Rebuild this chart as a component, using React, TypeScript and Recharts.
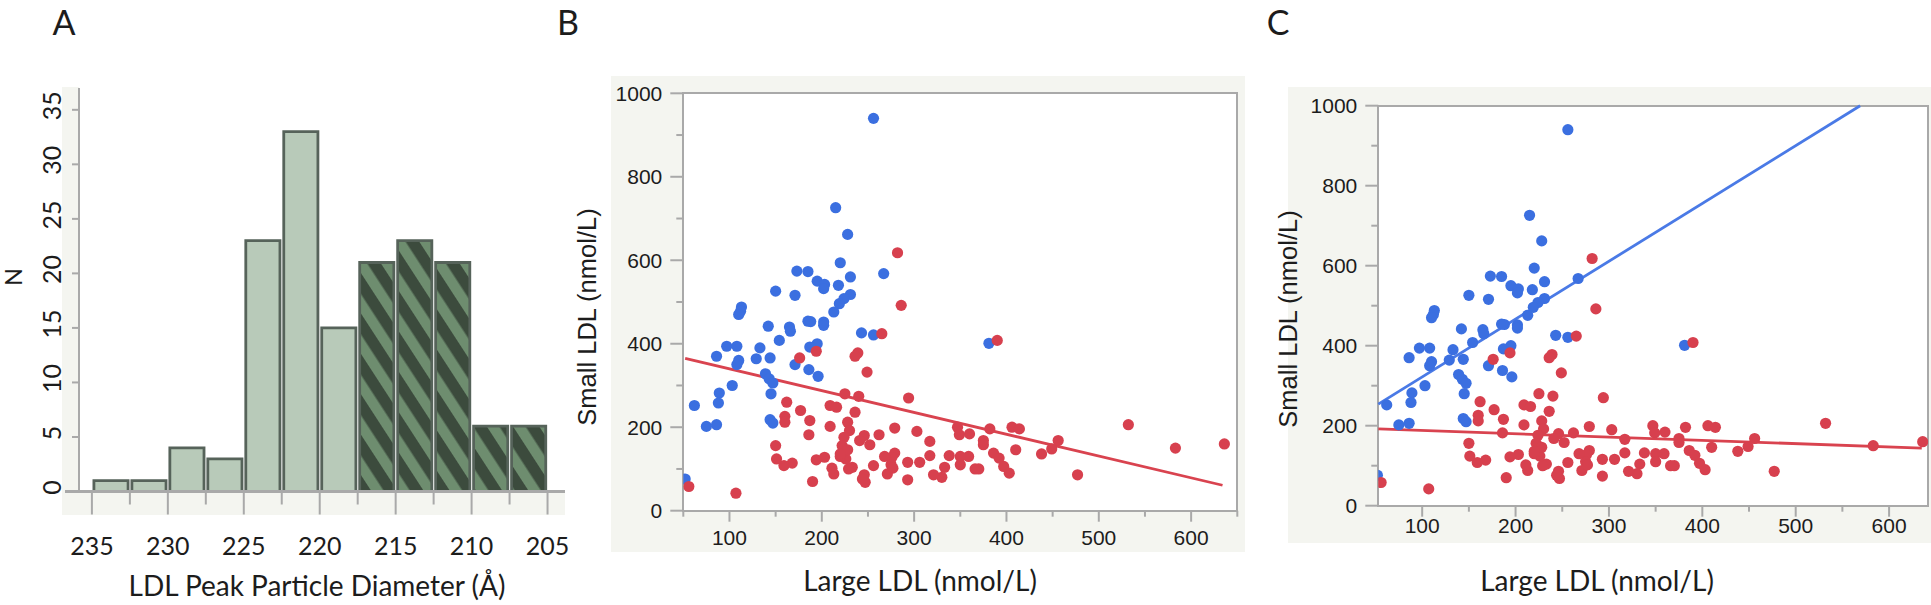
import {
  ComposedChart,
  Bar,
  Cell,
  XAxis,
  YAxis,
  ScatterChart,
  Scatter,
  ReferenceLine,
} from "recharts";

// ---- Panel A: LDL peak particle diameter histogram (2.5 Å bins) ----
const binMids = [233.75, 231.25, 228.75, 226.25, 223.75, 221.25, 218.75, 216.25, 213.75, 211.25, 208.75, 206.25];
const binCounts = [1, 1, 4, 3, 23, 33, 15, 21, 23, 21, 6, 6];
const binHatched = [false, false, false, false, false, false, false, true, true, true, true, true];
const histXTicks = [235, 232.5, 230, 227.5, 225, 222.5, 220, 217.5, 215, 212.5, 210, 207.5, 205];
const histYTicks = [0, 5, 10, 15, 20, 25, 30, 35];

// ---- Panels B/C: large vs small LDL (nmol/L) ----
const blueLarge = [256, 215, 228, 220, 267, 231, 173, 185, 195, 203, 202, 218, 150, 171, 231, 224, 219, 213, 113, 112, 110, 185, 188, 202, 202, 165, 166, 142, 243, 256, 154, 195, 187, 97, 108, 133, 86, 129, 144, 110, 108, 171, 186, 196, 139, 143, 147, 145, 103, 89, 88, 62, 75, 86, 144, 147, 52, 381];
const blueSmall = [940, 726, 662, 594, 568, 560, 574, 573, 550, 542, 532, 540, 526, 516, 518, 508, 496, 476, 488, 478, 470, 454, 453, 452, 444, 440, 430, 442, 426, 421, 408, 400, 392, 394, 394, 390, 370, 364, 366, 360, 350, 350, 338, 322, 328, 316, 306, 280, 300, 282, 258, 252, 202, 206, 218, 210, 76, 401];
const redLarge = [282, 286, 265, 390, 194, 176, 239, 236, 249, 294, 225, 240, 162, 209, 216, 177, 236, 160, 160, 187, 228, 209, 186, 230, 224, 222, 246, 241, 252, 262, 279, 303, 317, 347, 349, 360, 382, 406, 414, 375, 375, 410, 456, 449, 438, 532, 583, 636, 477, 386, 392, 397, 403, 370, 366, 359, 350, 350, 338, 333, 330, 321, 317, 306, 293, 293, 279, 276, 275, 271, 277, 268, 256, 246, 247, 244, 233, 229, 226, 220, 213, 211, 203, 194, 190, 168, 159, 151, 150, 107, 56, 228, 220];
const redSmall = [618, 492, 424, 408, 382, 366, 378, 370, 332, 270, 280, 274, 260, 252, 248, 240, 236, 226, 212, 216, 212, 202, 182, 192, 176, 156, 180, 168, 158, 182, 198, 190, 166, 200, 182, 184, 196, 200, 196, 168, 158, 146, 168, 148, 136, 206, 150, 160, 86, 138, 126, 106, 90, 100, 100, 130, 130, 110, 132, 104, 80, 86, 132, 116, 116, 74, 138, 128, 110, 88, 102, 130, 108, 86, 68, 76, 104, 100, 124, 130, 88, 102, 128, 122, 70, 114, 108, 124, 156, 42, 58, 146, 136];

const scatterYTicks = [0, 100, 200, 300, 400, 500, 600, 700, 800, 900, 1000];
const xTicksB = [50, 100, 150, 200, 250, 300, 350, 400, 450, 500, 550, 600, 650];
const xTicksC = [100, 150, 200, 250, 300, 350, 400, 450, 500, 550, 600];

// fitted lines (end points)
const fitBRedX = [52, 634];
const fitBRedY = [365, 61];
const fitCBlueX = [53, 569];
const fitCBlueY = [254, 1000];
const fitCRedX = [53, 635];
const fitCRedY = [192, 144];

const histData = binMids.map((mid, i) => ({ mid, n: binCounts[i], hatched: binHatched[i] }));
const bluePts = blueLarge.map((x, i) => ({ x, y: blueSmall[i] }));
const redPts = redLarge.map((x, i) => ({ x, y: redSmall[i] }));

const INK = "#1c1c1c";
const AXIS = "#a9a9a9";
const PANEL_BG = "#f4f5f0";
const BLUE = "#3b6fe0";
const RED = "#d7404e";
const SANS = "Lato, 'Open Sans', sans-serif";
const ARIAL = "'Liberation Sans', Arial, sans-serif";

function Txt({ x, y, size, font = SANS, rotate = 0, children }: any) {
  return (
    <div
      style={{
        position: "absolute",
        left: x,
        top: y,
        transform: `translate(-50%, -50%) rotate(${rotate}deg)`,
        fontFamily: font,
        fontSize: size,
        lineHeight: 1,
        whiteSpace: "nowrap",
        color: INK,
      }}
    >
      {children}
    </div>
  );
}

function Box({ x, y, w, h, bg, border }: any) {
  return (
    <div
      style={{
        position: "absolute",
        left: x,
        top: y,
        width: w,
        height: h,
        background: bg,
        border: border,
        boxSizing: "border-box",
      }}
    />
  );
}

function HistXTick({ x, y, payload }: any) {
  const major = payload.value % 5 === 0;
  return (
    <g>
      <line x1={x} x2={x} y1={y} y2={y + (major ? 23 : 13)} stroke={AXIS} strokeWidth={2} />
      {major && (
        <text x={x} y={y + 63} textAnchor="middle" fontFamily={SANS} fontSize={25} fill={INK}>
          {payload.value}
        </text>
      )}
    </g>
  );
}

function HistYTick({ x, y, payload }: any) {
  const tx = x - 18;
  const ty = y - 4;
  return (
    <g>
      <line x1={x - 7} x2={x} y1={y} y2={y} stroke={AXIS} strokeWidth={2} />
      <text x={tx} y={ty} transform={`rotate(-90 ${tx} ${ty})`} textAnchor="middle" fontFamily={SANS} fontSize={25} fill={INK}>
        {payload.value}
      </text>
    </g>
  );
}

function ScatterYTick({ x, y, payload }: any) {
  const major = payload.value % 200 === 0;
  return (
    <g>
      <line x1={x - (major ? 13 : 7)} x2={x} y1={y} y2={y} stroke={AXIS} strokeWidth={2} />
      {major && (
        <text x={x - 21} y={y + 7.5} textAnchor="end" fontFamily={ARIAL} fontSize={21} fill={INK}>
          {payload.value}
        </text>
      )}
    </g>
  );
}

const scatterXTick = (labelDy: number) => ({ x, y, payload }: any) => {
  const major = payload.value % 100 === 0;
  return (
    <g>
      <line x1={x} x2={x} y1={y} y2={y + (major ? 11 : 6)} stroke={AXIS} strokeWidth={2} />
      {major && (
        <text x={x} y={y + labelDy + 7.5} textAnchor="middle" fontFamily={ARIAL} fontSize={21} fill={INK}>
          {payload.value}
        </text>
      )}
    </g>
  );
};

const dot = (color: string) => (p: any) => <circle cx={p.cx} cy={p.cy} r={5.6} fill={color} />;

function Histogram() {
  return (
    <div style={{ position: "absolute", left: 0, top: 0 }}>
      <ComposedChart width={600} height={605} data={histData} margin={{ top: 88, right: 35, bottom: 83.5, left: 19 }}>
        <defs>
          <pattern id="hatch" patternUnits="userSpaceOnUse" width={22} height={22} patternTransform="rotate(-33)">
            <rect width={22} height={22} fill="#3c4b3d" />
            <rect width={10.5} height={22} fill="#6e8d6f" />
          </pattern>
        </defs>
        <XAxis
          type="number"
          dataKey="mid"
          domain={[203.85, 235.85]}
          reversed
          ticks={histXTicks}
          interval={0}
          tickSize={0}
          tickMargin={0}
          tickLine={false}
          axisLine={{ stroke: AXIS, strokeWidth: 3 }}
          tick={(t: any) => <HistXTick {...t} />}
          height={30}
        />
        <YAxis
          type="number"
          domain={[0, 37]}
          ticks={histYTicks}
          interval={0}
          tickSize={0}
          tickMargin={0}
          tickLine={false}
          axisLine={{ stroke: AXIS, strokeWidth: 2 }}
          tick={(t: any) => <HistYTick {...t} />}
          width={60}
        />
        <Bar dataKey="n" barSize={38} stroke="#56635a" strokeWidth={2.8} isAnimationActive={false}>
          {histData.map((d, i) => (
            <Cell key={i} fill={d.hatched ? "url(#hatch)" : "#b8cab9"} />
          ))}
        </Bar>
      </ComposedChart>
    </div>
  );
}

function ScatterPanel({ left, width, margin, xDomain, xTicks, labelDy, lines }: any) {
  return (
    <div style={{ position: "absolute", left, top: 0 }}>
      <ScatterChart width={width} height={605} margin={margin}>
        <XAxis
          type="number"
          dataKey="x"
          domain={xDomain}
          ticks={xTicks}
          interval={0}
          allowDataOverflow
          tickSize={0}
          tickMargin={0}
          tickLine={false}
          axisLine={false}
          tick={scatterXTick(labelDy)}
          height={30}
        />
        <YAxis
          type="number"
          dataKey="y"
          domain={[0, 1000]}
          ticks={scatterYTicks}
          interval={0}
          allowDataOverflow
          tickSize={0}
          tickMargin={0}
          tickLine={false}
          axisLine={false}
          tick={(t: any) => <ScatterYTick {...t} />}
          width={60}
        />
        <Scatter data={bluePts} shape={dot(BLUE)} isAnimationActive={false} />
        <Scatter data={redPts} shape={dot(RED)} isAnimationActive={false} />
        {lines.map((l: any, i: number) => (
          <ReferenceLine
            key={i}
            segment={[
              { x: l.x[0], y: l.y[0] },
              { x: l.x[1], y: l.y[1] },
            ]}
            stroke={l.color}
            strokeWidth={2.8}
          />
        ))}
      </ScatterChart>
    </div>
  );
}

export default function App() {
  return (
    <div style={{ position: "absolute", left: 0, top: 0, width: 1931, height: 605, background: "#fff", overflow: "hidden" }}>
      {/* panel A frame */}
      <Box x={62} y={87} w={17} h={428} bg={PANEL_BG} />
      <Box x={62} y={492} w={503} h={23} bg={PANEL_BG} />
      <Box x={65} y={490} w={15} h={3} bg={AXIS} />
      {/* panel B frame */}
      <Box x={611} y={76} w={634} h={476} bg={PANEL_BG} />
      <Box x={682} y={92} w={556} h={420} bg="#fff" border={`2px solid ${AXIS}`} />
      {/* panel C frame */}
      <Box x={1288} y={87} w={643} h={456} bg={PANEL_BG} />
      <Box x={1377} y={104.7} w={552} h={402} bg="#fff" border={`2px solid ${AXIS}`} />

      <Histogram />
      <ScatterPanel
        left={560}
        width={700}
        margin={{ top: 93.3, right: 22.7, bottom: 64.3, left: 63.3 }}
        xDomain={[50, 650]}
        xTicks={xTicksB}
        labelDy={27}
        lines={[{ x: fitBRedX, y: fitBRedY, color: "#d9434f" }]}
      />
      <ScatterPanel
        left={1280}
        width={651}
        margin={{ top: 105.7, right: 2.7, bottom: 69.3, left: 38.3 }}
        xDomain={[53, 642]}
        xTicks={xTicksC}
        labelDy={19.5}
        lines={[
          { x: fitCBlueX, y: fitCBlueY, color: "#4a7ae6" },
          { x: fitCRedX, y: fitCRedY, color: "#d9434f" },
        ]}
      />

      <Txt x={64} y={22} size={34}>A</Txt>
      <Txt x={568} y={22} size={34}>B</Txt>
      <Txt x={1278} y={22} size={34}>C</Txt>
      <Txt x={13} y={277} size={23} rotate={-90}>N</Txt>
      <Txt x={317} y={585} size={28}>LDL Peak Particle Diameter (Å)</Txt>
      <Txt x={588} y={317} size={25.5} font={ARIAL} rotate={-90}>Small LDL (nmol/L)</Txt>
      <Txt x={920} y={580} size={28}>Large LDL (nmol/L)</Txt>
      <Txt x={1289} y={319} size={25.5} font={ARIAL} rotate={-90}>Small LDL (nmol/L)</Txt>
      <Txt x={1597} y={580} size={28}>Large LDL (nmol/L)</Txt>
    </div>
  );
}
